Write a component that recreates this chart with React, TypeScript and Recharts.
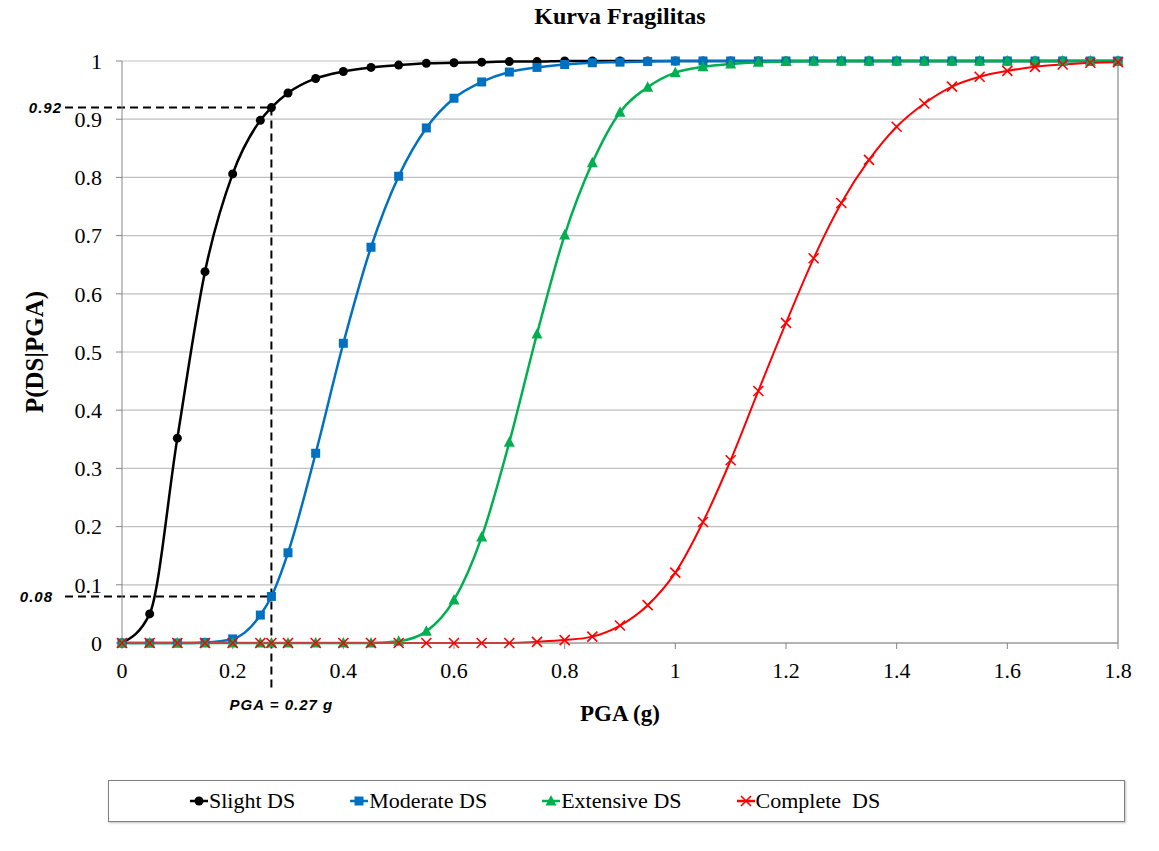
import {
   CartesianGrid,
   Label,
   Legend,
   Line,
   LineChart,
   ReferenceLine,
   XAxis,
   YAxis,
} from 'recharts'

// PGA (g) sample points
const pga = [
   0, 0.05, 0.1, 0.15, 0.2, 0.25, 0.27, 0.3, 0.35, 0.4, 0.45, 0.5, 0.55, 0.6,
   0.65, 0.7, 0.75, 0.8, 0.85, 0.9, 0.95, 1, 1.05, 1.1, 1.15, 1.2, 1.25, 1.3,
   1.35, 1.4, 1.45, 1.5, 1.55, 1.6, 1.65, 1.7, 1.75, 1.8,
]

const slight = [
   0, 0.05, 0.352, 0.638, 0.806, 0.898, 0.92, 0.945, 0.97, 0.982, 0.989,
   0.993, 0.996, 0.997, 0.998, 0.999, 0.999, 1, 1, 1, 1, 1, 1, 1, 1, 1, 1, 1,
   1, 1, 1, 1, 1, 1, 1, 1, 1, 1,
]

const moderate = [
   0, 0, 0, 0.001, 0.007, 0.048, 0.08, 0.155, 0.326, 0.515, 0.68, 0.802,
   0.885, 0.936, 0.964, 0.981, 0.989, 0.994, 0.997, 0.998, 0.999, 1, 1, 1, 1,
   1, 1, 1, 1, 1, 1, 1, 1, 1, 1, 1, 1, 1,
]

const extensive = [
   0, 0, 0, 0, 0, 0, 0, 0, 0, 0, 0, 0.003, 0.02, 0.074, 0.182, 0.345, 0.531,
   0.701, 0.825, 0.912, 0.955, 0.98, 0.99, 0.995, 0.998, 0.999, 1, 1, 1, 1, 1,
   1, 1, 1, 1, 1, 1, 1,
]

const complete = [
   0, 0, 0, 0, 0, 0, 0, 0, 0, 0, 0, 0, 0, 0, 0, 0, 0.002, 0.005, 0.011, 0.03,
   0.065, 0.121, 0.208, 0.314, 0.433, 0.55, 0.661, 0.756, 0.83, 0.887, 0.927,
   0.956, 0.973, 0.983, 0.99, 0.994, 0.997, 0.998,
]

const xTicks = [0, 0.2, 0.4, 0.6, 0.8, 1, 1.2, 1.4, 1.6, 1.8]
const yTicks = [0, 0.1, 0.2, 0.3, 0.4, 0.5, 0.6, 0.7, 0.8, 0.9, 1]

// read-off point marked on the chart
const pgaMark = 0.27
const slightMark = 0.92
const moderateMark = 0.08

const data = pga.map((x, i) => ({
   pga: x,
   slight: slight[i],
   moderate: moderate[i],
   extensive: extensive[i],
   complete: complete[i],
}))

const serif = '"Liberation Serif", "Times New Roman", serif'
const sans = '"Liberation Sans", Arial, sans-serif'

function marker(kind: string, cx: number, cy: number, color: string, key?: any) {
   if (kind === 'circle') return <circle key={key} cx={cx} cy={cy} r={4.5} fill={color} />
   if (kind === 'square')
      return <rect key={key} x={cx - 4.5} y={cy - 4.5} width={9} height={9} fill={color} />
   if (kind === 'triangle')
      return (
         <path
            key={key}
            d={`M${cx},${cy - 6} L${cx + 5.5},${cy + 4.5} L${cx - 5.5},${cy + 4.5} Z`}
            fill={color}
         />
      )
   return (
      <path
         key={key}
         d={`M${cx - 5},${cy - 5} L${cx + 5},${cy + 5} M${cx + 5},${cy - 5} L${cx - 5},${cy + 5}`}
         stroke={color}
         strokeWidth={1.6}
         fill="none"
      />
   )
}

const series = [
   { key: 'slight', name: 'Slight DS', color: '#000000', shape: 'circle', width: 2.5 },
   { key: 'moderate', name: 'Moderate DS', color: '#0070C0', shape: 'square', width: 2.5 },
   { key: 'extensive', name: 'Extensive DS', color: '#00B050', shape: 'triangle', width: 2.5 },
   { key: 'complete', name: 'Complete  DS', color: '#FF0000', shape: 'cross', width: 2 },
]

const fmt = (v: number) => String(Number(v.toFixed(1)))

function LegendBox() {
   return (
      <div
         style={{
            boxSizing: 'border-box',
            width: '100%',
            height: '100%',
            border: '1.5px solid #808080',
            boxShadow: '1px 1px 2px rgba(0,0,0,0.25)',
            display: 'flex',
            alignItems: 'center',
            paddingLeft: 81,
            gap: 55,
            fontFamily: serif,
            fontSize: 22,
            color: '#000',
         }}
      >
         {series.map((s) => (
            <div key={s.key} style={{ display: 'flex', alignItems: 'center' }}>
               <svg width={18} height={14} style={{ marginRight: 1 }}>
                  <line x1={0} y1={7} x2={18} y2={7} stroke={s.color} strokeWidth={2.5} />
                  {marker(s.shape, 9, 7, s.color)}
               </svg>
               <span style={{ whiteSpace: 'pre' }}>{s.name}</span>
            </div>
         ))}
      </div>
   )
}

export default function App() {
   return (
      <div style={{ position: 'relative', width: 1143, height: 835 }}>
         <div
            style={{
               position: 'absolute',
               top: -4,
               left: 0,
               width: 1224,
               textAlign: 'center',
               fontFamily: serif,
               fontWeight: 'bold',
               fontSize: 24,
               lineHeight: '24px',
            }}
         >
            Kurva Fragilitas
         </div>
         <LineChart
            width={1143}
            height={835}
            data={data}
            margin={{ top: 53, right: 33, left: 0, bottom: 160 }}
         >
            <CartesianGrid vertical={false} stroke="#c0c0c0" strokeWidth={1.2} />
            <XAxis
               dataKey="pga"
               type="number"
               domain={[0, 1.8]}
               ticks={xTicks}
               tickFormatter={fmt}
               height={40}
               stroke="#868686"
               tickSize={6}
               tickMargin={13}
               tick={{ fill: '#000', fontFamily: serif, fontSize: 22 }}
            >
               <Label
                  value="PGA (g)"
                  position="insideBottom"
                  offset={-38}
                  style={{ fontFamily: serif, fontWeight: 'bold', fontSize: 23, fill: '#000' }}
               />
            </XAxis>
            <YAxis
               type="number"
               domain={[0, 1]}
               ticks={yTicks}
               tickFormatter={fmt}
               width={114}
               stroke="#868686"
               tickSize={6}
               tickMargin={14}
               tick={{ fill: '#000', fontFamily: serif, fontSize: 22 }}
            >
               <Label
                  value="P(DS|PGA)"
                  angle={-90}
                  position="insideLeft"
                  offset={26}
                  style={{
                     fontFamily: serif,
                     fontWeight: 'bold',
                     fontSize: 25,
                     fill: '#000',
                     textAnchor: 'middle',
                  }}
               />
            </YAxis>
            <ReferenceLine x={1.8} stroke="#868686" strokeWidth={1.2} />
            {series.map((s) => (
               <Line
                  key={s.key}
                  dataKey={s.key}
                  name={s.name}
                  type="monotone"
                  stroke={s.color}
                  strokeWidth={s.width}
                  isAnimationActive={false}
                  dot={(p: any) => marker(s.shape, p.cx, p.cy, s.color, `${s.key}-${p.index}`)}
                  activeDot={false}
               />
            ))}
            <ReferenceLine
               segment={[
                  { x: -0.103, y: slightMark },
                  { x: pgaMark, y: slightMark },
               ]}
               ifOverflow="visible"
               stroke="#000"
               strokeWidth={2}
               strokeDasharray="8 5"
            >
               <Label
                  value={String(slightMark)}
                  position="left"
                  offset={3}
                  fill="#000"
                  fontFamily={sans}
                  fontSize={15}
                  fontWeight="bold"
                  fontStyle="italic"
                  letterSpacing={1}
               />
            </ReferenceLine>
            <ReferenceLine
               segment={[
                  { x: -0.103, y: moderateMark },
                  { x: pgaMark, y: moderateMark },
               ]}
               ifOverflow="visible"
               stroke="#000"
               strokeWidth={2}
               strokeDasharray="8 5"
            >
               <Label
                  value={String(moderateMark)}
                  position="left"
                  offset={12}
                  fill="#000"
                  fontFamily={sans}
                  fontSize={15}
                  fontWeight="bold"
                  fontStyle="italic"
                  letterSpacing={1}
               />
            </ReferenceLine>
            <ReferenceLine
               segment={[
                  { x: pgaMark, y: slightMark },
                  { x: pgaMark, y: -0.081 },
               ]}
               ifOverflow="visible"
               stroke="#000"
               strokeWidth={2}
               strokeDasharray="8 5"
            >
               <Label
                  value={`PGA = ${pgaMark} g`}
                  position="bottom"
                  offset={9}
                  dx={10}
                  fill="#000"
                  fontFamily={sans}
                  fontSize={15}
                  fontWeight="bold"
                  fontStyle="italic"
                  letterSpacing={1}
               />
            </ReferenceLine>
            <Legend
               layout="horizontal"
               verticalAlign="middle"
               align="center"
               content={() => <LegendBox />}
               wrapperStyle={{ position: 'absolute', left: 100, top: 772, width: 1017, height: 42 }}
            />
         </LineChart>
      </div>
   )
}
